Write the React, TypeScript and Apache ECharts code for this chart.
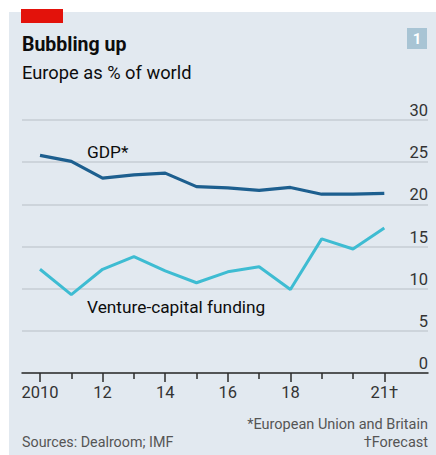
import React, { useEffect, useRef } from "react";
import * as echarts from "echarts";

const years = [2010, 2011, 2012, 2013, 2014, 2015, 2016, 2017, 2018, 2019, 2020, 2021];
const gdpShare = [25.8, 25.1, 23.1, 23.5, 23.7, 22.1, 21.95, 21.65, 22.0, 21.2, 21.2, 21.3];
const vcShare = [12.3, 9.3, 12.3, 13.8, 12.1, 10.7, 12.0, 12.6, 9.9, 15.9, 14.7, 17.2];
const labelYears = [2010, 2012, 2014, 2016, 2018, 2021];
const minorYears = [2011, 2013, 2015, 2017, 2019, 2020];
const xLabelText: Record<number, string> = { 2010: "2010", 2012: "12", 2014: "14", 2016: "16", 2018: "18", 2021: "21†" };

const FONT = "Roboto, 'Noto Sans', sans-serif";

export default function App() {
  const ref = useRef<HTMLDivElement>(null);
  useEffect(() => {
    if (!ref.current) return;
    const chart = echarts.init(ref.current, undefined, { renderer: "svg" });
    const xMin = 2009.425;
    const xMax = 2022.396;
    chart.setOption({
      animation: false,
      backgroundColor: "transparent",
      textStyle: { fontFamily: FONT },
      grid: { left: 22, right: 8, top: 120, bottom: 82 },
      xAxis: [
        {
          type: "value",
          min: xMin,
          max: xMax,
          position: "bottom",
          axisLine: { show: true, lineStyle: { color: "#2b2b2b", width: 1.5 } },
          axisTick: { show: true, length: 9, customValues: labelYears, lineStyle: { color: "#2b2b2b", width: 1.5 } },
          axisLabel: {
            show: true,
            customValues: labelYears,
            formatter: (v: number) => xLabelText[Math.round(v)] ?? "",
            color: "#333",
            fontSize: 16.5,
            fontFamily: FONT,
            margin: 11,
          },
          splitLine: { show: false },
        },
        {
          type: "value",
          min: xMin,
          max: xMax,
          position: "bottom",
          axisLine: { show: false },
          axisTick: { show: true, length: 6, customValues: minorYears, lineStyle: { color: "#2b2b2b", width: 1.5 } },
          axisLabel: { show: false },
          splitLine: { show: false },
        },
      ],
      yAxis: {
        type: "value",
        min: 0,
        max: 30,
        interval: 5,
        position: "right",
        axisLine: { show: false },
        axisTick: { show: false },
        axisLabel: {
          inside: true,
          margin: 0,
          verticalAlign: "bottom",
          color: "#333",
          fontSize: 16.5,
          fontFamily: FONT,
          padding: [0, 0, 1, 0],
        },
        splitLine: { show: true, lineStyle: { color: "#c6cdd4", width: 1.5 } },
      },
      series: [
        {
          type: "line",
          name: "GDP*",
          xAxisIndex: 0,
          data: years.map((y, i) => [y, gdpShare[i]]),
          symbol: "none",
          lineStyle: { color: "#1d5f8f", width: 3.2 },
        },
        {
          type: "line",
          name: "Venture-capital funding",
          xAxisIndex: 0,
          data: years.map((y, i) => [y, vcShare[i]]),
          symbol: "none",
          lineStyle: { color: "#3ebcd2", width: 3 },
        },
      ],
      graphic: [
        { type: "rect", shape: { x: 21, y: 9, width: 42, height: 14 }, style: { fill: "#e3120b" } },
        { type: "rect", shape: { x: 407, y: 28, width: 20, height: 21 }, style: { fill: "#a8c4d4" } },
        { type: "text", style: { text: "1", x: 417, y: 39, textAlign: "center", textVerticalAlign: "middle", font: `bold 15px ${FONT}`, fill: "#ffffff" } },
        { type: "text", style: { text: "Bubbling up", x: 22, y: 44, textVerticalAlign: "middle", font: `bold 19.5px ${FONT}`, fill: "#0d0d0d" } },
        { type: "text", style: { text: "Europe as % of world", x: 22, y: 72, textVerticalAlign: "middle", font: `18.3px ${FONT}`, fill: "#0d0d0d" } },
        { type: "text", style: { text: "GDP*", x: 87, y: 152, textVerticalAlign: "middle", font: `17.3px ${FONT}`, fill: "#0d0d0d" } },
        { type: "text", style: { text: "Venture-capital funding", x: 87, y: 307, textVerticalAlign: "middle", font: `17.3px ${FONT}`, fill: "#0d0d0d" } },
        { type: "text", style: { text: "*European Union and Britain", x: 428, y: 424, textAlign: "right", textVerticalAlign: "middle", font: `14.5px ${FONT}`, fill: "#555" } },
        { type: "text", style: { text: "†Forecast", x: 428, y: 442, textAlign: "right", textVerticalAlign: "middle", font: `14.5px ${FONT}`, fill: "#555" } },
        { type: "text", style: { text: "Sources: Dealroom; IMF", x: 22, y: 442, textVerticalAlign: "middle", font: `14.3px ${FONT}`, fill: "#555" } },
      ],
    });
    return () => chart.dispose();
  }, []);
  return (
    <div style={{ position: "absolute", left: 0, top: 0, width: 436, height: 455, background: "#ffffff" }}>
      <div style={{ position: "absolute", left: 9, top: 12, width: 427, height: 443, background: "#e2e9f0" }} />
      <div ref={ref} style={{ position: "absolute", left: 0, top: 0, width: 436, height: 455 }} />
    </div>
  );
}
